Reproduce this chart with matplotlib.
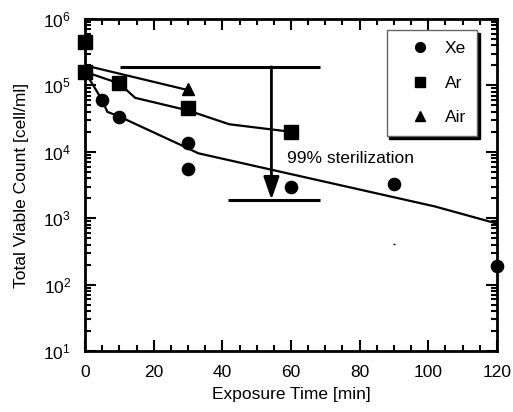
import matplotlib

matplotlib.use("Agg")

import matplotlib.pyplot as plt

plt.rcParams["font.family"] = ["Liberation Sans", "DejaVu Sans"]
plt.rcParams["font.size"] = 12.5

# measured points
xe_t = [0, 5, 10, 30, 30, 60, 90, 120]
xe_n = [1.6e5, 6.0e4, 3.4e4, 1.35e4, 5.6e3, 3.0e3, 3.3e3, 190]
ar_t = [0, 0, 10, 30, 60]
ar_n = [4.5e5, 1.6e5, 1.1e5, 4.6e4, 2.0e4]
air_t = [30]
air_n = [8.8e4]

# fitted curves
xe_fit_t = [0, 5, 6.5, 10, 28, 33, 102, 120]
xe_fit_n = [1.6e5, 6.0e4, 4.0e4, 3.4e4, 1.26e4, 9.5e3, 1.5e3, 830]
ar_fit_t = [0, 10, 14.6, 30, 42, 60]
ar_fit_n = [1.6e5, 1.07e5, 6.5e4, 4.2e4, 2.6e4, 2.0e4]
air_fit_t = [0, 30]
air_fit_n = [2.0e5, 8.5e4]

# 99% sterilization marker
ster_top = 1.9e5
ster_bottom = 1.9e3
ster_top_span = (10.2, 68.4)
ster_bottom_span = (41.7, 68.4)
ster_arrow_t = 54.3
ster_label = "99% sterilization"

stray_t = [90]
stray_n = [405]

fig = plt.figure(figsize=(5.13, 4.12), dpi=100)
ax = fig.add_axes([0.1657, 0.148, 0.8031, 0.8059])

for t, n in [(xe_fit_t, xe_fit_n), (ar_fit_t, ar_fit_n), (air_fit_t, air_fit_n)]:
    ax.plot(t, n, color="black", lw=1.6, zorder=2)

ax.plot(xe_t, xe_n, "o", color="black", ms=8.8, ls="none", label="Xe", clip_on=False, zorder=4)
ax.plot(ar_t, ar_n, "s", color="black", ms=9.5, ls="none", label="Ar", clip_on=False, zorder=4)
ax.plot(air_t, air_n, "^", color="black", ms=9, ls="none", label="Air", clip_on=False, zorder=4)
ax.plot(stray_t, stray_n, "_", color="black", ms=2, mew=1, ls="none")

ax.hlines(ster_top, *ster_top_span, color="black", lw=2.2)
ax.hlines(ster_bottom, *ster_bottom_span, color="black", lw=2.2)
ax.annotate(
    "",
    xy=(ster_arrow_t, ster_bottom),
    xytext=(ster_arrow_t, ster_top),
    arrowprops=dict(arrowstyle="-|>,head_length=1.1,head_width=0.38", color="black", lw=2, shrinkA=0, shrinkB=0),
)
ax.text(58.8, 7.8e3, ster_label, ha="left", va="center")

ax.set_yscale("log")
ax.set_xlim(0, 120)
ax.set_ylim(10, 1e6)
ax.set_xticks(range(0, 121, 20))
ax.set_xticks(range(0, 121, 5), minor=True)
ax.tick_params(which="both", direction="in", top=True, right=True, width=1.5)
ax.tick_params(which="major", length=8)
ax.tick_params(which="minor", length=4.5)
ax.tick_params(axis="x", which="both", pad=10)
ax.tick_params(axis="y", which="both", pad=10)
for spine in ax.spines.values():
    spine.set_linewidth(2)

ax.set_xlabel("Exposure Time [min]", labelpad=5)
ax.set_ylabel("Total Viable Count [cell/ml]", labelpad=10)

leg = ax.legend(
    loc="upper right",
    bbox_to_anchor=(0.952, 0.967),
    numpoints=1,
    markerscale=0.8,
    fancybox=False,
    shadow={"color": "black", "alpha": 1},
    edgecolor="0.4",
    framealpha=1,
    borderpad=0.65,
    labelspacing=1.1,
    handlelength=2.5,
    handletextpad=0.2,
    borderaxespad=0,
)
leg.get_frame().set_linewidth(1.0)

fig.savefig("out.png", dpi=100)
